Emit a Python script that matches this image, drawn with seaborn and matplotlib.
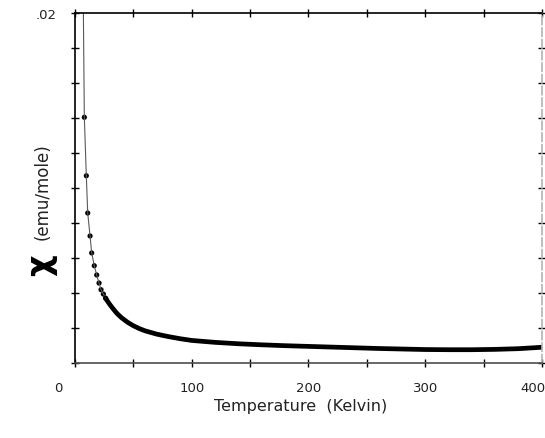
import numpy as np
import pandas as pd
import seaborn as sns
import matplotlib.pyplot as plt
from matplotlib.transforms import ScaledTranslation

# low temperature points (drawn as dots joined by a thin line)
t_low = [6.5, 8.0, 9.7, 10.9, 12.9, 14.3, 16.5, 18.6, 20.6, 22.3, 24.3, 26.3]
chi_low = [0.0250, 0.01404, 0.01070, 0.00857, 0.00726, 0.00629, 0.00556,
           0.00503, 0.00457, 0.00419, 0.00394, 0.00370]

# dense part of the curve (reads as a thick band)
t_band = [26, 28, 30, 33, 36, 40, 45, 50, 55, 60, 70, 80, 90, 100, 120, 140,
          150, 160, 180, 200, 220, 240, 260, 280, 300, 320, 340, 360, 380, 400]
chi_band = [0.00372, 0.00352, 0.00333, 0.00307, 0.00283, 0.00258, 0.00233,
            0.00213, 0.00197, 0.00184, 0.00165, 0.00151, 0.00139, 0.00129,
            0.00118, 0.00110, 0.00107, 0.00104, 0.00099, 0.00095, 0.00091,
            0.00087, 0.00083, 0.00080, 0.00077, 0.00076, 0.00076, 0.00078,
            0.00082, 0.00090]

x_ticks = [0, 50, 100, 150, 200, 250, 300, 350, 400]
x_labels = ["0", "", "100", "", "200", "", "300", "", "400"]
y_ticks = [0.0, 0.002, 0.004, 0.006, 0.008, 0.010, 0.012, 0.014, 0.016, 0.018, 0.020]
y_labels = [""] * 10 + [".02"]

low = pd.DataFrame({"T": t_low, "chi": chi_low})
band = pd.DataFrame({"T": t_band, "chi": chi_band})

sns.set_style("ticks")
fig = plt.figure(figsize=(5.45, 4.39), dpi=100)
ax = fig.add_axes([0.1376, 0.1708, 0.8569, 0.7973])

sns.lineplot(data=low, x="T", y="chi", ax=ax, color="0.35", lw=0.8,
             sort=False, estimator=None)
sns.scatterplot(data=low.iloc[1:], x="T", y="chi", ax=ax, color="black",
                s=14, edgecolor="none")
sns.lineplot(data=band, x="T", y="chi", ax=ax, color="black", lw=3.4,
             sort=False, estimator=None, solid_capstyle="round")

ax.set_xlim(0, 400)
ax.set_ylim(0, 0.02)
ax.set_xticks(x_ticks)
ax.set_xticklabels(x_labels)
ax.set_yticks(y_ticks)
ax.set_yticklabels(y_labels)
ax.set_xlabel("")
ax.set_ylabel("")

ax.tick_params(axis="both", direction="inout", length=6, width=1,
               color="black", labelsize=9.5, labelcolor="#222222")
ax.tick_params(axis="x", pad=10)
ax.tick_params(axis="y", pad=10)
ax.tick_params(top=True, right=True, labeltop=False, labelright=False)

for side in ["left", "top"]:
    ax.spines[side].set_color("black")
    ax.spines[side].set_linewidth(1.2)
ax.spines["bottom"].set_color("0.3")
ax.spines["bottom"].set_linewidth(1.2)
ax.spines["right"].set_color("0.7")
ax.spines["right"].set_linestyle((0, (5, 2)))
ax.spines["right"].set_linewidth(1.2)
for s in ax.spines.values():
    s.set_visible(True)

# the "0" label sits left of the axis, "400" a bit inside the edge
labs = ax.get_xticklabels()
labs[0].set_transform(labs[0].get_transform() +
                      ScaledTranslation(-17 / 100, 0, fig.dpi_scale_trans))
labs[-1].set_transform(labs[-1].get_transform() +
                       ScaledTranslation(-9 / 100, 0, fig.dpi_scale_trans))

fig.text(0.551, 0.075, "Temperature  (Kelvin)", ha="center", va="center",
         fontsize=11.5, color="#222222")
fig.text(0.075, 0.395, "\u03c7", rotation=90, ha="center", va="center",
         fontsize=24, fontweight="bold", color="black")
fig.text(0.078, 0.563, "(emu/mole)", rotation=90, ha="center", va="center",
         fontsize=12, color="#222222")

fig.savefig("out.png", dpi=100)
